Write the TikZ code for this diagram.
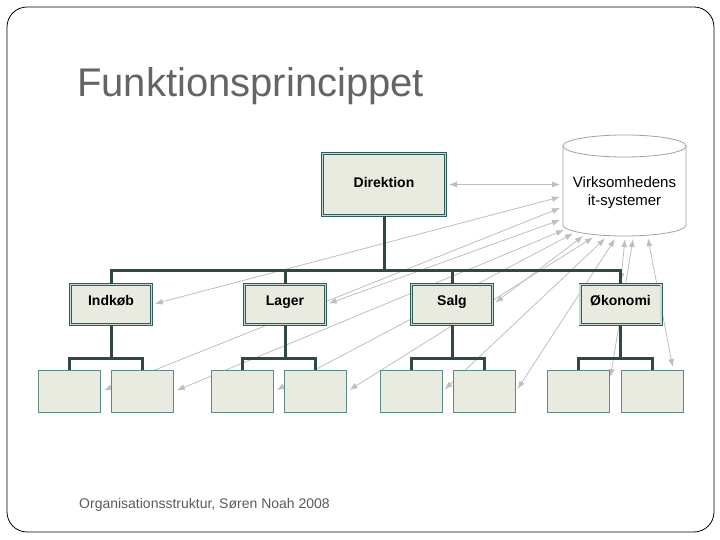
\documentclass[tikz,border=0pt]{standalone}
\usepackage{fontspec}
\setmainfont{Liberation Sans}
\usetikzlibrary{arrows.meta}

\definecolor{boxfill}{RGB}{233,234,224}
\definecolor{boxdark}{RGB}{50,92,86}
\definecolor{boxlight}{RGB}{196,218,212}
\definecolor{unitline}{RGB}{92,138,132}
\definecolor{treeline}{RGB}{47,74,58}
\definecolor{linkgray}{RGB}{190,190,190}
\definecolor{titlegray}{RGB}{100,100,100}
\definecolor{notegray}{RGB}{90,90,90}

\pgfdeclarelayer{bg}
\pgfsetlayers{bg,main}

\begin{document}
\begin{tikzpicture}[x=1pt,y=1pt,
            dept/.style={draw=boxdark,double=boxlight,double distance=1.2pt,line width=.9pt,fill=boxfill,
              minimum width=81pt,minimum height=40pt,inner sep=0,text height=10pt,text depth=7pt,
              font=\fontsize{14}{16}\selectfont\bfseries},
            boss/.style={dept,minimum width=123pt,minimum height=62pt,text depth=3pt},
            unit/.style={draw=unitline,line width=1pt,fill=boxfill,minimum width=62pt,minimum height=42pt,inner sep=0},
            tree/.style={draw=treeline,line width=3pt},
            dbline/.style={draw=linkgray!85!black,line width=.8pt,fill=white},
            link/.style={draw=linkgray,line width=.8pt,-{Latex[length=8pt,width=6pt]},shorten >=0pt},
            link2/.style={link,{Latex[length=8pt,width=6pt]}-{Latex[length=8pt,width=6pt]},shorten <=3pt}
          ]
          \useasboundingbox (0,0) rectangle (720,540);
          \draw[rounded corners=20pt,line width=.8pt] (7,8) rectangle (714,533);

          %labels
          \node[anchor=base west,inner sep=0,text=titlegray,font=\fontsize{40}{48}\selectfont] (title) at (77,443) {Funktionsprincippet};
          \node[anchor=base west,inner sep=0,text=notegray,font=\fontsize{14}{16}\selectfont] (note) at (79,31) {Organisationsstruktur, Søren Noah 2008};

          %database
          \draw[dbline] (563,394) -- (563,315) arc[start angle=180,end angle=360,x radius=61.5,y radius=11] -- (686,394);
          \draw[dbline] (624.5,394) ellipse[x radius=61.5,y radius=11];
          \node[align=center,font=\fontsize{15}{18}\selectfont] (db) at (624.5,347) {Virksomhedens\\it-systemer};

          %boxes
          \node[boss] (dir) at (384,355.5) {Direktion};
          \node[dept] (ind) at (111,235.5) {Indkøb};
          \node[dept] (lag) at (285,235.5) {Lager};
          \node[dept] (sal) at (452,235.5) {Salg};
          \node[dept] (oko) at (620.5,235.5) {Økonomi};

          \node[unit] (ia) at (69.5,148.5) {};
          \node[unit] (ib) at (142.5,148.5) {};
          \node[unit] (la) at (242.5,148.5) {};
          \node[unit] (lb) at (315.5,148.5) {};
          \node[unit] (sa) at (411,148.5) {};
          \node[unit] (sb) at (484.5,148.5) {};
          \node[unit] (oa) at (578.5,148.5) {};
          \node[unit] (ob) at (652.5,148.5) {};

          %lines
          \coordinate (bus) at (384,269);
          \draw[tree] (dir.south) -- (bus);
          \draw[tree] (ind.north) |- (bus) -| (oko.north);
          \draw[tree] (lag.north) -- (lag.north |- bus);
          \draw[tree] (sal.north) -- (sal.north |- bus);

          \draw[tree] (ind.south) -- ++(0,-33.5) coordinate (ij);
          \draw[tree] (ia.north) |- (ij) -| (ib.north);
          \draw[tree] (lag.south) -- ++(0,-33.5) coordinate (lj);
          \draw[tree] (la.north) |- (lj) -| (lb.north);
          \draw[tree] (sal.south) -- ++(0,-33.5) coordinate (sj);
          \draw[tree] (sa.north) |- (sj) -| (sb.north);
          \draw[tree] (oko.south) -- ++(0,-33.5) coordinate (oj);
          \draw[tree] (oa.north) |- (oj) -| (ob.north);

          %arrows to the it-systems
          \coordinate (c-dir) at (560,355.5);
          \coordinate (c-ind) at (560,343);
          \coordinate (c-ia) at (560,332);
          \coordinate (c-lag) at (560,320);
          \coordinate (c-ib) at (564,310);
          \coordinate (c-la) at (573,306.5);
          \coordinate (c-sal) at (583,304);
          \coordinate (c-lb) at (593,302.5);
          \coordinate (c-sa) at (605,301.5);
          \coordinate (c-sb) at (615,301);
          \coordinate (c-oko) at (625,301);
          \coordinate (c-oa) at (633,301);
          \coordinate (c-ob) at (648,301.8);

          \begin{pgfonlayer}{bg}
          \draw[link2] (dir.east) -- (c-dir);
          \draw[link2] (ind.east) -- (c-ind);
          \draw[link2] (ia.east) -- (c-ia);
          \draw[link2] (lag.east) -- (c-lag);
          \draw[link2] (ib.east) -- (c-ib);
          \draw[link2] (la.east) -- (c-la);
          \draw[link2] (sal.east) -- (c-sal);
          \draw[link2] (lb.east) -- (c-lb);
          \draw[link2] (sa.east) -- (c-sa);
          \draw[link2] (sb.east) -- (c-sb);
          \draw[link2] (oko.north) -- (c-oko);
          \draw[link2] (oa.20) -- (c-oa);
          \draw[link2] (ob.46) -- (c-ob);
          \end{pgfonlayer}
      \end{tikzpicture}
\end{document}
